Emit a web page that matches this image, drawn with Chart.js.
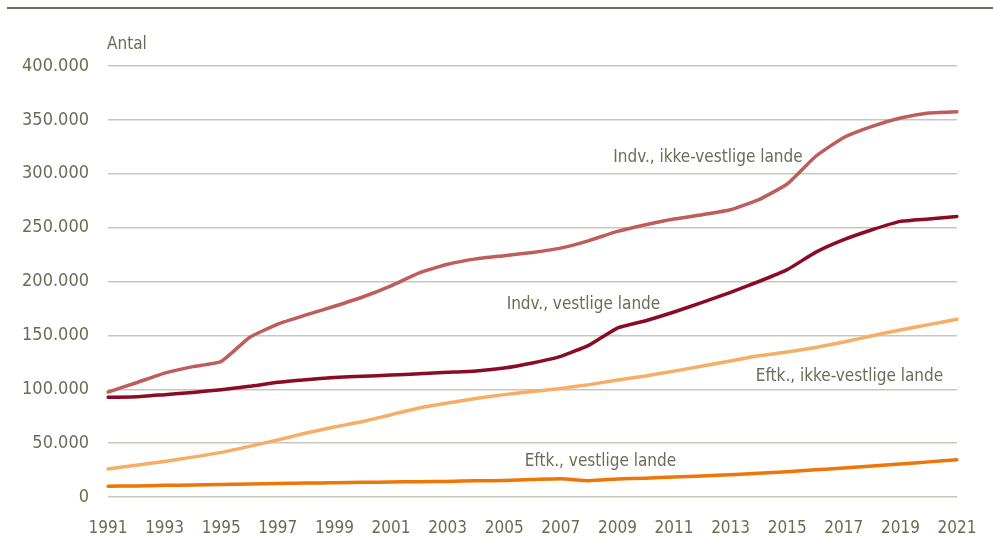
<!DOCTYPE html>
<html>
<head>
<meta charset="utf-8">
<script src="https://cdn.jsdelivr.net/npm/chart.js@4/dist/chart.umd.min.js"></script>
<style>
    html, body { margin: 0; padding: 0; background: #ffffff; }
    #wrap { width: 993px; height: 539px; position: relative; }
</style>
</head>
<body>
<div id="wrap"><canvas id="myChart"></canvas></div>
<script>
/* Population by origin, 1991-2021 */

const years = [];
for (let y = 1991; y <= 2021; y++) years.push(String(y));

// values
const indvIkkeVestlige = [97400, 106000, 115000, 121000, 125800, 148000, 160500, 169000, 177000, 185600,
    196000, 208000, 216000, 221000, 224000, 227000, 231000, 238000, 246500, 252700,
    258000, 262000, 266600, 276000, 290500, 316000, 333700, 344000, 351700, 356400, 357600];
const indvVestlige = [92500, 93000, 95000, 97000, 99600, 102700, 106400, 108900, 111000, 112000,
    113200, 114400, 115700, 117000, 119700, 124400, 130500, 141000, 156800, 163600,
    171700, 180600, 190000, 200000, 211000, 227000, 238800, 248000, 255800, 258000, 260400];
const eftkIkkeVestlige = [26000, 29500, 33000, 37000, 41400, 47000, 53000, 59400, 65000, 70000,
    76400, 82600, 87200, 91500, 95000, 98000, 100800, 104300, 108500, 112300,
    116800, 121500, 126300, 131000, 134500, 138800, 143800, 149700, 155000, 160000, 165000];
const eftkVestlige = [9900, 10300, 10800, 11200, 11700, 12100, 12500, 12900, 13300, 13600,
    13900, 14200, 14500, 15000, 15400, 16200, 17000, 15100, 16700, 17500,
    18500, 19600, 20700, 22000, 23500, 25200, 26900, 28700, 30600, 32600, 34600];

const seriesNames = ['Indv., ikke-vestlige lande', 'Indv., vestlige lande',
    'Eftk., ikke-vestlige lande', 'Eftk., vestlige lande'];
// where each line label sits, in axis units (year, value)
const labelYears = [2012.2, 2007.8, 2017.2, 2008.4];
const labelValues = [315000, 178500, 112000, 33000];

const textColor = '#6b6b5c';
const fontFamily = '"Liberation Sans Narrow", "DejaVu Sans Condensed", "Liberation Sans", sans-serif';

function fmt(v) {
    return String(v).replace(/\B(?=(\d{3})+(?!\d))/g, '.');
}

// top rule, "Antal" and the line labels
const extras = {
    id: 'extras',
    afterDraw(chart) {
        const ctx = chart.ctx;
        const xs = chart.scales.x;
        const ys = chart.scales.y;
        ctx.save();
        ctx.strokeStyle = '#6e6e5c';
        ctx.lineWidth = 2;
        ctx.beginPath();
        ctx.moveTo(7, 8);
        ctx.lineTo(993, 8);
        ctx.stroke();

        ctx.fillStyle = textColor;
        ctx.font = '17px ' + fontFamily;
        ctx.textBaseline = 'middle';
        ctx.textAlign = 'left';
        ctx.fillText('Antal', chart.chartArea.left - 1, 45);

        ctx.textAlign = 'center';
        seriesNames.forEach((name, i) => {
            const px = xs.getPixelForValue(0) + (labelYears[i] - 1991) *
                (xs.getPixelForValue(1) - xs.getPixelForValue(0));
            const py = ys.getPixelForValue(labelValues[i]);
            ctx.fillText(name, px, py);
        });
        ctx.restore();
    }
};

const lineChart = new Chart(document.getElementById('myChart'), {
    type: 'line',
    data: {
        labels: years,
        datasets: [
            { label: seriesNames[0], data: indvIkkeVestlige, borderColor: '#bd5d5c' },
            { label: seriesNames[1], data: indvVestlige, borderColor: '#8b0b26' },
            { label: seriesNames[2], data: eftkIkkeVestlige, borderColor: '#f8ad66' },
            { label: seriesNames[3], data: eftkVestlige, borderColor: '#ee7607' }
        ].map(d => Object.assign(d, {
            borderWidth: 3.5,
            pointRadius: 0,
            fill: false,
            tension: 0.15,
            borderCapStyle: 'round',
            borderJoinStyle: 'round'
        }))
    },
    options: {
        responsive: true,
        maintainAspectRatio: false,
        animation: false,
        layout: { padding: { left: 0, right: 36, top: 66, bottom: 0 } },
        scales: {
            x: {
                grid: { display: false },
                border: { display: false },
                ticks: {
                    autoSkip: false,
                    maxRotation: 0,
                    padding: 13,
                    color: textColor,
                    font: { family: fontFamily, size: 17 },
                    callback: function (val, idx) {
                        return idx % 2 === 0 ? this.getLabelForValue(val) : '';
                    }
                },
                afterFit: (scale) => { scale.height = 42; }
            },
            y: {
                min: 0,
                max: 400000,
                grid: { color: '#c9c7bd', lineWidth: 1.5, drawTicks: false },
                border: { display: false },
                ticks: {
                    stepSize: 50000,
                    padding: 19,
                    color: textColor,
                    font: { family: fontFamily, size: 18 },
                    callback: (v) => fmt(v)
                },
                afterFit: (scale) => { scale.width = 108; }
            }
        },
        plugins: {
            legend: { display: false },
            tooltip: { enabled: false }
        }
    },
    plugins: [extras]
});
</script>
</body>
</html>
